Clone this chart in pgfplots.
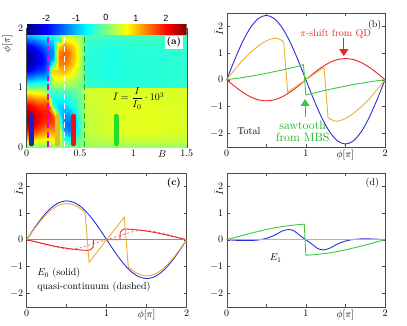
\documentclass[border=0pt]{standalone}
\usepackage{fontspec}
\usepackage{amsmath}
\usepackage{pgfplots}
\pgfplotsset{compat=1.18}
\usetikzlibrary{arrows.meta}
\newfontfamily\cbfont{Liberation Sans}

\definecolor{cblue}{RGB}{45,45,215}
\definecolor{cred}{RGB}{235,35,35}
\definecolor{cyel}{RGB}{235,175,50}
\definecolor{cgreen}{RGB}{60,200,60}
\definecolor{tgreen}{RGB}{20,175,20}
\definecolor{cmag}{RGB}{225,0,225}
\definecolor{dgreen}{RGB}{40,170,40}
\definecolor{cpink}{RGB}{245,110,110}
\definecolor{barblue}{RGB}{30,30,200}
\definecolor{baryel}{RGB}{220,190,40}
\definecolor{barred}{RGB}{230,20,20}
\definecolor{bargreen}{RGB}{40,220,40}

\pgfplotsset{
  panel/.style={
    scale only axis, width=158.3pt, height=134pt, anchor=north west,
    xmin=0, xmax=2, ymin=-2.5, ymax=2.5,
    xtick={0,0.5,1,1.5,2}, xticklabels={$0$,,$1$,$\phi[\pi]$,$2$},
    ytick={-2,-1,0,1,2},
    axis line style={black!70, line width=0.4pt},
    tick style={black!70, line width=0.4pt},
    major tick length=3pt,
    ylabel={$\bar{I}$},
    every axis y label/.style={at={(axis description cs:0,0.85)}, rotate=90, anchor=south},
    every axis plot/.append style={line width=0.9pt},
  },
}

\begin{document}
\begin{tikzpicture}
\useasboundingbox (0pt,0pt) rectangle (407pt,-325pt);

% (a) map of the current over B and phi
\begin{axis}[
  scale only axis, width=160pt, height=119pt, anchor=north west, at={(26.7pt,-28pt)},
  xmin=0, xmax=1.5, ymin=0, ymax=2,
  xtick={0,0.5,1,1.5}, xticklabels={$0$,$0.5$,$1$,$1.5$},
  extra x ticks={1.27}, extra x tick labels={$B$},
  extra x tick style={major tick length=0pt},
  ytick={0,1,2},
  axis line style={black!70, line width=0.4pt},
  tick style={black!70, line width=0.4pt},
  major tick length=3pt,
  ylabel={$\phi[\pi]$},
  every axis y label/.style={at={(axis description cs:-0.067,0.87)}, rotate=90, anchor=south},
  colormap/jet, point meta min=-2.65, point meta max=2.7,
  colorbar horizontal,
  colorbar style={
    at={(parent axis.north west)}, anchor=south west, yshift=2pt,
    scale only axis, width=160pt, height=10pt,
    xtick={-2,-1,0,1,2}, xticklabels={-2,-1,0,1,2},
    xticklabel pos=upper, xticklabel style={font=\cbfont\small},
    major tick length=0pt, axis line style={draw=none},
  },
]
\addplot[surf, shader=interp, mesh/cols=17, point meta=explicit] coordinates {
(0,0) [0] (0.05,0) [0] (0.1,0) [0] (0.15,0) [0] (0.2,0) [0.05] (0.25,0) [0.1] (0.3,0) [0.1] (0.35,0) [0] (0.4,0) [0] (0.45,0) [0] (0.5,0) [0.05] (0.55,0) [0.15] (0.6,0) [0.15] (0.8,0) [0.15] (1,0) [0.15] (1.2,0) [0.15] (1.5,0) [0.15]
(0,0.1) [0.8] (0.05,0.1) [0.75] (0.1,0.1) [0.65] (0.15,0.1) [0.55] (0.2,0.1) [0.5] (0.25,0.1) [0.6] (0.3,0.1) [0.5] (0.35,0.1) [-0.3] (0.4,0.1) [-0.4] (0.45,0.1) [-0.2] (0.5,0.1) [-0.05] (0.55,0.1) [0.25] (0.6,0.1) [0.3] (0.8,0.1) [0.35] (1,0.1) [0.4] (1.2,0.1) [0.4] (1.5,0.1) [0.35]
(0,0.2) [1.5] (0.05,0.2) [1.4] (0.1,0.2) [1.25] (0.15,0.2) [1.05] (0.2,0.2) [0.9] (0.25,0.2) [1.0] (0.3,0.2) [0.8] (0.35,0.2) [-0.8] (0.4,0.2) [-1.0] (0.45,0.2) [-0.5] (0.5,0.2) [-0.2] (0.55,0.2) [0.3] (0.6,0.2) [0.35] (0.8,0.2) [0.45] (1,0.2) [0.5] (1.2,0.2) [0.5] (1.5,0.2) [0.45]
(0,0.3) [2.1] (0.05,0.3) [1.95] (0.1,0.3) [1.75] (0.15,0.3) [1.5] (0.2,0.3) [1.3] (0.25,0.3) [1.4] (0.3,0.3) [0.7] (0.35,0.3) [-1.2] (0.4,0.3) [-1.4] (0.45,0.3) [-0.8] (0.5,0.3) [-0.3] (0.55,0.3) [0.35] (0.6,0.3) [0.4] (0.8,0.3) [0.5] (1,0.3) [0.55] (1.2,0.3) [0.55] (1.5,0.3) [0.5]
(0,0.4) [2.5] (0.05,0.4) [2.3] (0.1,0.4) [2.05] (0.15,0.4) [1.8] (0.2,0.4) [1.7] (0.25,0.4) [1.7] (0.3,0.4) [0.2] (0.35,0.4) [-1.3] (0.4,0.4) [-1.45] (0.45,0.4) [-0.9] (0.5,0.4) [-0.3] (0.55,0.4) [0.35] (0.6,0.4) [0.4] (0.8,0.4) [0.5] (1,0.4) [0.55] (1.2,0.4) [0.55] (1.5,0.4) [0.5]
(0,0.5) [2.6] (0.05,0.5) [2.4] (0.1,0.5) [2.15] (0.15,0.5) [1.95] (0.2,0.5) [1.9] (0.25,0.5) [1.7] (0.3,0.5) [-0.4] (0.35,0.5) [-1.2] (0.4,0.5) [-1.3] (0.45,0.5) [-0.8] (0.5,0.5) [-0.25] (0.55,0.5) [0.4] (0.6,0.5) [0.4] (0.8,0.5) [0.5] (1,0.5) [0.55] (1.2,0.5) [0.55] (1.5,0.5) [0.5]
(0,0.6) [2.5] (0.05,0.6) [2.3] (0.1,0.6) [2.05] (0.15,0.6) [1.9] (0.2,0.6) [1.9] (0.25,0.6) [1.0] (0.3,0.6) [-0.8] (0.35,0.6) [-1.0] (0.4,0.6) [-1.0] (0.45,0.6) [-0.6] (0.5,0.6) [-0.2] (0.55,0.6) [0.4] (0.6,0.6) [0.4] (0.8,0.6) [0.5] (1,0.6) [0.55] (1.2,0.6) [0.55] (1.5,0.6) [0.5]
(0,0.7) [2.1] (0.05,0.7) [1.95] (0.1,0.7) [1.75] (0.15,0.7) [1.7] (0.2,0.7) [1.7] (0.25,0.7) [-0.4] (0.3,0.7) [-0.8] (0.35,0.7) [-0.8] (0.4,0.7) [-0.7] (0.45,0.7) [-0.4] (0.5,0.7) [-0.15] (0.55,0.7) [0.4] (0.6,0.7) [0.45] (0.8,0.7) [0.5] (1,0.7) [0.55] (1.2,0.7) [0.55] (1.5,0.7) [0.5]
(0,0.8) [1.5] (0.05,0.8) [1.4] (0.1,0.8) [1.25] (0.15,0.8) [1.25] (0.2,0.8) [1.2] (0.25,0.8) [-0.6] (0.3,0.8) [-0.6] (0.35,0.8) [-0.6] (0.4,0.8) [-0.5] (0.45,0.8) [-0.25] (0.5,0.8) [-0.1] (0.55,0.8) [0.4] (0.6,0.8) [0.45] (0.8,0.8) [0.5] (1,0.8) [0.5] (1.2,0.8) [0.5] (1.5,0.8) [0.5]
(0,0.9) [0.8] (0.05,0.9) [0.75] (0.1,0.9) [0.65] (0.15,0.9) [0.65] (0.2,0.9) [-0.1] (0.25,0.9) [-0.4] (0.3,0.9) [-0.35] (0.35,0.9) [-0.35] (0.4,0.9) [-0.3] (0.45,0.9) [-0.15] (0.5,0.9) [-0.05] (0.55,0.9) [0.4] (0.6,0.9) [0.45] (0.8,0.9) [0.5] (1,0.9) [0.5] (1.2,0.9) [0.5] (1.5,0.9) [0.5]
(0,0.99) [0.1] (0.05,0.99) [0.1] (0.1,0.99) [0.08] (0.15,0.99) [0.06] (0.2,0.99) [-0.1] (0.25,0.99) [-0.1] (0.3,0.99) [-0.1] (0.35,0.99) [-0.1] (0.4,0.99) [-0.1] (0.45,0.99) [-0.05] (0.5,0.99) [0] (0.55,0.99) [0.4] (0.6,0.99) [0.45] (0.8,0.99) [0.5] (1,0.99) [0.5] (1.2,0.99) [0.5] (1.5,0.99) [0.5]
(0,1.01) [-0.1] (0.05,1.01) [-0.1] (0.1,1.01) [-0.08] (0.15,1.01) [-0.06] (0.2,1.01) [-0.1] (0.25,1.01) [0.1] (0.3,1.01) [0.1] (0.35,1.01) [0.1] (0.4,1.01) [0.1] (0.45,1.01) [0.05] (0.5,1.01) [0] (0.55,1.01) [-0.35] (0.6,1.01) [-0.4] (0.8,1.01) [-0.45] (1,1.01) [-0.45] (1.2,1.01) [-0.45] (1.5,1.01) [-0.4]
(0,1.1) [-0.8] (0.05,1.1) [-0.75] (0.1,1.1) [-0.65] (0.15,1.1) [-0.65] (0.2,1.1) [-0.5] (0.25,1.1) [0.45] (0.3,1.1) [0.4] (0.35,1.1) [0.4] (0.4,1.1) [0.3] (0.45,1.1) [0.2] (0.5,1.1) [0.1] (0.55,1.1) [-0.35] (0.6,1.1) [-0.4] (0.8,1.1) [-0.45] (1,1.1) [-0.45] (1.2,1.1) [-0.45] (1.5,1.1) [-0.4]
(0,1.2) [-1.5] (0.05,1.2) [-1.4] (0.1,1.2) [-1.25] (0.15,1.2) [-1.25] (0.2,1.2) [-1.0] (0.25,1.2) [0.8] (0.3,1.2) [0.75] (0.35,1.2) [0.8] (0.4,1.2) [0.6] (0.45,1.2) [0.4] (0.5,1.2) [0.2] (0.55,1.2) [-0.35] (0.6,1.2) [-0.45] (0.8,1.2) [-0.5] (1,1.2) [-0.45] (1.2,1.2) [-0.45] (1.5,1.2) [-0.4]
(0,1.3) [-2.1] (0.05,1.3) [-1.95] (0.1,1.3) [-1.75] (0.15,1.3) [-1.7] (0.2,1.3) [-1.3] (0.25,1.3) [1.0] (0.3,1.3) [1.05] (0.35,1.3) [1.15] (0.4,1.3) [0.95] (0.45,1.3) [0.6] (0.5,1.3) [0.3] (0.55,1.3) [-0.4] (0.6,1.3) [-0.45] (0.8,1.3) [-0.5] (1,1.3) [-0.45] (1.2,1.3) [-0.45] (1.5,1.3) [-0.4]
(0,1.4) [-2.5] (0.05,1.4) [-2.3] (0.1,1.4) [-2.05] (0.15,1.4) [-1.9] (0.2,1.4) [-1.5] (0.25,1.4) [-0.5] (0.3,1.4) [1.3] (0.35,1.4) [1.4] (0.4,1.4) [1.2] (0.45,1.4) [0.8] (0.5,1.4) [0.35] (0.55,1.4) [-0.4] (0.6,1.4) [-0.45] (0.8,1.4) [-0.5] (1,1.4) [-0.45] (1.2,1.4) [-0.45] (1.5,1.4) [-0.4]
(0,1.5) [-2.6] (0.05,1.5) [-2.4] (0.1,1.5) [-2.15] (0.15,1.5) [-1.95] (0.2,1.5) [-1.5] (0.25,1.5) [-1.2] (0.3,1.5) [1.4] (0.35,1.5) [1.55] (0.4,1.5) [1.35] (0.45,1.5) [0.9] (0.5,1.5) [0.4] (0.55,1.5) [-0.4] (0.6,1.5) [-0.45] (0.8,1.5) [-0.5] (1,1.5) [-0.45] (1.2,1.5) [-0.45] (1.5,1.5) [-0.4]
(0,1.6) [-2.5] (0.05,1.6) [-2.3] (0.1,1.6) [-2.05] (0.15,1.6) [-1.8] (0.2,1.6) [-1.4] (0.25,1.6) [-1.3] (0.3,1.6) [1.35] (0.35,1.6) [1.55] (0.4,1.6) [1.35] (0.45,1.6) [0.9] (0.5,1.6) [0.4] (0.55,1.6) [-0.4] (0.6,1.6) [-0.45] (0.8,1.6) [-0.5] (1,1.6) [-0.45] (1.2,1.6) [-0.45] (1.5,1.6) [-0.4]
(0,1.7) [-2.1] (0.05,1.7) [-1.95] (0.1,1.7) [-1.75] (0.15,1.7) [-1.5] (0.2,1.7) [-1.2] (0.25,1.7) [-1.1] (0.3,1.7) [0.9] (0.35,1.7) [1.35] (0.4,1.7) [1.15] (0.45,1.7) [0.8] (0.5,1.7) [0.35] (0.55,1.7) [-0.35] (0.6,1.7) [-0.4] (0.8,1.7) [-0.45] (1,1.7) [-0.4] (1.2,1.7) [-0.4] (1.5,1.7) [-0.4]
(0,1.8) [-1.5] (0.05,1.8) [-1.4] (0.1,1.8) [-1.25] (0.15,1.8) [-1.05] (0.2,1.8) [-0.9] (0.25,1.8) [-0.8] (0.3,1.8) [-0.3] (0.35,1.8) [0.8] (0.4,1.8) [0.7] (0.45,1.8) [0.5] (0.5,1.8) [0.25] (0.55,1.8) [-0.3] (0.6,1.8) [-0.35] (0.8,1.8) [-0.4] (1,1.8) [-0.35] (1.2,1.8) [-0.35] (1.5,1.8) [-0.35]
(0,1.9) [-0.8] (0.05,1.9) [-0.75] (0.1,1.9) [-0.65] (0.15,1.9) [-0.55] (0.2,1.9) [-0.5] (0.25,1.9) [-0.45] (0.3,1.9) [-0.25] (0.35,1.9) [0.2] (0.4,1.9) [0.3] (0.45,1.9) [0.2] (0.5,1.9) [0.15] (0.55,1.9) [-0.25] (0.6,1.9) [-0.25] (0.8,1.9) [-0.3] (1,1.9) [-0.3] (1.2,1.9) [-0.3] (1.5,1.9) [-0.3]
(0,2) [0] (0.05,2) [0] (0.1,2) [0] (0.15,2) [0] (0.2,2) [-0.05] (0.25,2) [-0.05] (0.3,2) [0] (0.35,2) [0] (0.4,2) [0.05] (0.45,2) [0.05] (0.5,2) [0.05] (0.55,2) [-0.1] (0.6,2) [-0.1] (0.8,2) [-0.1] (1,2) [-0.1] (1.2,2) [-0.1] (1.5,2) [-0.1]
};
\addplot[cmag, line width=1.6pt, dash pattern=on 6pt off 3.5pt] coordinates {(0.2,0) (0.2,2)};
\addplot[white, line width=1.6pt, dash pattern=on 6pt off 3.5pt] coordinates {(0.356,0) (0.356,2)};
\addplot[dgreen, line width=1.6pt, dash pattern=on 6pt off 3.5pt] coordinates {(0.54,0) (0.54,2)};
\addplot[barblue, line width=4.5pt, line cap=round] coordinates {(0.045,0.05) (0.045,0.52)};
\addplot[baryel, line width=4.5pt, line cap=round] coordinates {(0.29,0.05) (0.29,0.52)};
\addplot[barred, line width=4.5pt, line cap=round] coordinates {(0.44,0.05) (0.44,0.52)};
\addplot[bargreen, line width=4.5pt, line cap=round] coordinates {(0.84,0.05) (0.84,0.52)};
\node at (axis cs:1.05,0.82) {$\bar{I}=\dfrac{I}{I_0}\cdot 10^3$};
\node[fill=white, inner sep=1.5pt, font=\bfseries] at (axis cs:1.38,1.76) {(a)};
\end{axis}

% (b) total current
\begin{axis}[panel, at={(226.7pt,-12.7pt)}]
\addplot[cblue, smooth] coordinates {(0,0) (0.1,0.742) (0.2,1.411) (0.3,1.942) (0.4,2.283) (0.5,2.4) (0.6,2.283) (0.7,1.942) (0.8,1.411) (0.9,0.742) (1,0) (1.1,-0.742) (1.2,-1.411) (1.3,-1.942) (1.4,-2.283) (1.5,-2.4) (1.6,-2.283) (1.7,-1.942) (1.8,-1.411) (1.9,-0.742) (2,0)};
\addplot[cred, smooth] coordinates {(0,0) (0.1,-0.244) (0.2,-0.464) (0.3,-0.639) (0.4,-0.751) (0.5,-0.79) (0.6,-0.751) (0.7,-0.639) (0.8,-0.464) (0.9,-0.244) (1,0) (1.1,0.244) (1.2,0.464) (1.3,0.639) (1.4,0.751) (1.5,0.79) (1.6,0.751) (1.7,0.639) (1.8,0.464) (1.9,0.244) (2,0)};
\addplot[cyel] coordinates {(0,0) (0.05,0.19) (0.1,0.37) (0.15,0.55) (0.2,0.72) (0.25,0.87) (0.3,1.01) (0.35,1.14) (0.4,1.26) (0.45,1.36) (0.5,1.45) (0.55,1.51) (0.6,1.55) (0.65,1.53) (0.7,1.46) (0.72,1.40) (0.77,-0.46) (1,0) (1.23,0.46) (1.28,-1.40) (1.3,-1.46) (1.35,-1.53) (1.4,-1.55) (1.45,-1.51) (1.5,-1.45) (1.55,-1.36) (1.6,-1.26) (1.65,-1.14) (1.7,-1.01) (1.75,-0.87) (1.8,-0.72) (1.85,-0.55) (1.9,-0.37) (1.95,-0.19) (2,0)};
\addplot[cgreen] coordinates {(0,0) (0.1,0.04) (0.2,0.08) (0.3,0.13) (0.4,0.18) (0.5,0.24) (0.6,0.3) (0.7,0.36) (0.8,0.43) (0.9,0.5) (0.97,0.56) (1.0,-0.57) (1.1,-0.5) (1.2,-0.43) (1.3,-0.36) (1.4,-0.3) (1.5,-0.24) (1.6,-0.18) (1.7,-0.13) (1.8,-0.08) (1.9,-0.04) (2,0)};
\draw[cred, line width=1pt, -{Triangle[width=9pt,length=7pt]}] (axis cs:1.48,1.55) -- (axis cs:1.48,0.88);
\node[text=cred] at (axis cs:1.375,1.71) {$\pi$-shift from QD};
\draw[cgreen, line width=1pt, -{Triangle[width=9pt,length=7pt]}] (axis cs:0.99,-1.38) -- (axis cs:0.99,-0.72);
\node[text=tgreen, align=center, inner sep=0pt, font=\large] at (axis cs:0.96,-1.92) {sawtooth\\[-2pt]from MBS};
\node at (axis cs:0.28,-1.9) {Total};
\node at (axis cs:1.87,2.03) {(b)};
\end{axis}

% (c) E0 and quasi-continuum
\begin{axis}[panel, width=160pt, at={(26.7pt,-172.7pt)}]
\addplot[cblue, smooth] coordinates {(0,0) (0.1,0.448) (0.2,0.852) (0.3,1.173) (0.4,1.379) (0.5,1.45) (0.6,1.379) (0.7,1.173) (0.8,0.852) (0.9,0.448) (1,0) (1.1,-0.448) (1.2,-0.852) (1.3,-1.173) (1.4,-1.379) (1.5,-1.45) (1.6,-1.379) (1.7,-1.173) (1.8,-0.852) (1.9,-0.448) (2,0)};
\addplot[cpink, line width=0.7pt, dash pattern=on 2.5pt off 2pt] coordinates {(0,0) (0.1,-0.08) (0.2,-0.16) (0.3,-0.24) (0.4,-0.3) (0.5,-0.35) (0.58,-0.36) (0.7,-0.28) (0.83,-0.15) (0.92,-0.07) (1,0) (1.08,0.07) (1.17,0.15) (1.3,0.28) (1.42,0.36) (1.5,0.35) (1.6,0.3) (1.7,0.24) (1.8,0.16) (1.9,0.08) (2,0)};
\addplot[cred] coordinates {(0,0) (0.1,-0.07) (0.2,-0.14) (0.3,-0.21) (0.4,-0.27) (0.5,-0.32) (0.6,-0.36) (0.7,-0.39) (0.77,-0.4) (0.8,-0.37) (0.83,-0.28) (0.835,0) (1.165,0) (1.17,0.28) (1.2,0.37) (1.23,0.4) (1.3,0.39) (1.4,0.36) (1.5,0.32) (1.6,0.27) (1.7,0.21) (1.8,0.14) (1.9,0.07) (2,0)};
\addplot[cyel] coordinates {(0,0) (0.05,0.211) (0.1,0.417) (0.15,0.613) (0.2,0.794) (0.25,0.955) (0.3,1.092) (0.35,1.203) (0.4,1.284) (0.45,1.333) (0.5,1.35) (0.55,1.333) (0.6,1.284) (0.65,1.203) (0.7,1.092) (0.73,1.02) (0.78,-0.84) (1.22,0.84) (1.27,-1.02) (1.3,-1.092) (1.35,-1.203) (1.4,-1.284) (1.45,-1.333) (1.5,-1.35) (1.55,-1.333) (1.6,-1.284) (1.65,-1.203) (1.7,-1.092) (1.75,-0.955) (1.8,-0.794) (1.85,-0.613) (1.9,-0.417) (1.95,-0.211) (2,0)};
\addplot[cgreen] coordinates {(0,0) (2,0)};
\node[anchor=west, inner sep=0pt] at (axis cs:0.13,-1.26) {$E_0$ (solid)};
\node[anchor=west, inner sep=0pt] at (axis cs:0.13,-1.78) {quasi-continuum (dashed)};
\node[font=\bfseries] at (axis cs:1.84,2.12) {(c)};
\end{axis}

% (d) E1
\begin{axis}[panel, at={(226.7pt,-172.7pt)}]
\addplot[cblue, smooth] coordinates {(0,0) (0.1,-0.02) (0.2,-0.03) (0.3,-0.03) (0.4,-0.01) (0.5,0.05) (0.6,0.16) (0.7,0.32) (0.78,0.38) (0.85,0.33) (0.92,0.17) (1,0) (1.08,-0.17) (1.15,-0.33) (1.22,-0.38) (1.3,-0.32) (1.4,-0.16) (1.5,-0.05) (1.6,0.01) (1.7,0.03) (1.8,0.03) (1.9,0.02) (2,0)};
\addplot[cred] coordinates {(0,0) (2,0)};
\addplot[cyel] coordinates {(0.02,0) (2,0)};
\addplot[cgreen] coordinates {(0,0) (0.1,0.08) (0.2,0.16) (0.3,0.24) (0.4,0.31) (0.5,0.38) (0.6,0.44) (0.7,0.49) (0.8,0.53) (0.9,0.56) (0.98,0.58) (1.0,-0.58) (1.1,-0.56) (1.2,-0.53) (1.3,-0.49) (1.4,-0.44) (1.5,-0.38) (1.6,-0.31) (1.7,-0.24) (1.8,-0.16) (1.9,-0.08) (2,0)};
\node at (axis cs:0.62,-0.68) {$E_1$};
\node at (axis cs:1.84,2.12) {(d)};
\end{axis}
\end{tikzpicture}
\end{document}
